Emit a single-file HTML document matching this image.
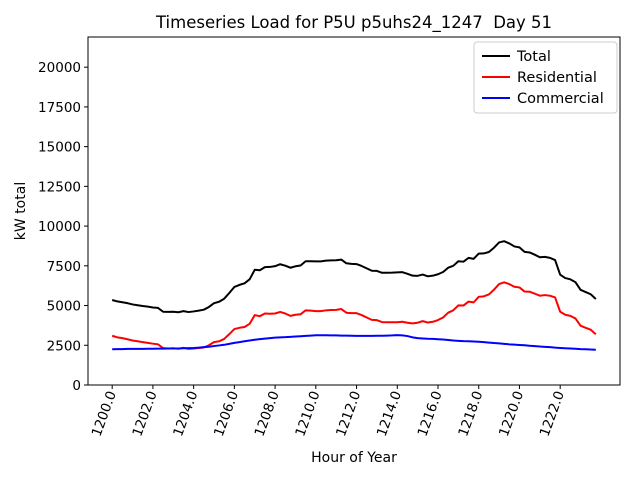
<!DOCTYPE html>
<html><head><meta charset="utf-8"><style>body{margin:0;background:#fff}svg{font-family:"DejaVu Sans","Liberation Sans",sans-serif}</style></head>
<body>
<svg id="c" width="640" height="480">
<rect width="640" height="480" fill="#fff"/>
<text x="354" y="28" font-size="16.5" text-anchor="middle" xml:space="preserve" style="white-space:pre">Timeseries Load for P5U p5uhs24_1247  Day 51</text>
<g id="grid"></g>
<g id="series"></g>
<rect x="88" y="37" width="532" height="348" fill="none" stroke="#000" stroke-width="1"/>
<text x="354" y="462" font-size="14" text-anchor="middle">Hour of Year</text>
<text transform="translate(25,211) rotate(-90)" font-size="14" text-anchor="middle">kW total</text>
<g>
<rect x="474" y="42" width="143" height="71" rx="3" fill="#fff" stroke="#ccc"/>
<g><line x1="482" y1="56" x2="510" y2="56" stroke="#000" stroke-width="2"/><text x="517" y="61" font-size="14.5">Total</text></g>
<g><line x1="482" y1="77" x2="510" y2="77" stroke="#f00" stroke-width="2"/><text x="517" y="82" font-size="14.5">Residential</text></g>
<g><line x1="482" y1="98" x2="510" y2="98" stroke="#00f" stroke-width="2"/><text x="517" y="103" font-size="14.5">Commercial</text></g>
</g>
</svg>
<script>
const startHour = 1200;
const stepHour = 0.25;
const xTicks = [1200,1202,1204,1206,1208,1210,1212,1214,1216,1218,1220,1222];
const yTicks = [0,2500,5000,7500,10000,12500,15000,17500,20000];
const total = [5350,5260,5210,5150,5070,5020,4970,4930,4880,4850,4610,4600,4610,4580,4650,4590,4630,4680,4740,4910,5150,5240,5430,5790,6170,6300,6400,6650,7250,7220,7420,7430,7480,7600,7510,7380,7470,7520,7790,7790,7780,7780,7830,7840,7850,7890,7660,7620,7610,7490,7340,7190,7180,7060,7060,7070,7090,7100,7000,6880,6870,6950,6840,6880,6970,7110,7380,7500,7790,7760,8000,7940,8270,8280,8370,8640,8970,9050,8910,8720,8660,8380,8340,8200,8040,8060,8000,7860,6940,6730,6650,6470,5990,5850,5710,5410];
const residential = [3100,3000,2950,2880,2800,2750,2700,2650,2600,2560,2320,2300,2310,2280,2340,2270,2300,2330,2360,2500,2700,2750,2900,3200,3520,3600,3650,3850,4400,4330,4500,4480,4500,4600,4500,4350,4420,4450,4700,4680,4650,4650,4700,4720,4730,4780,4550,4520,4520,4400,4250,4100,4080,3960,3950,3950,3950,3980,3920,3880,3920,4020,3930,3980,4090,4250,4550,4700,5010,5000,5250,5200,5550,5580,5700,6000,6350,6460,6350,6180,6140,5880,5870,5750,5620,5660,5620,5510,4610,4420,4350,4190,3730,3600,3480,3190];
const commercial = [2250,2260,2260,2270,2270,2270,2270,2280,2280,2290,2290,2300,2300,2300,2310,2320,2330,2350,2380,2410,2450,2490,2530,2590,2650,2700,2750,2800,2850,2890,2920,2950,2980,3000,3010,3030,3050,3070,3090,3110,3130,3130,3130,3120,3120,3110,3110,3100,3090,3090,3090,3090,3100,3100,3110,3120,3140,3120,3080,3000,2950,2930,2910,2900,2880,2860,2830,2800,2780,2760,2750,2740,2720,2700,2670,2640,2620,2590,2560,2540,2520,2500,2470,2450,2420,2400,2380,2350,2330,2310,2300,2280,2260,2250,2230,2220];

const NS = "http://www.w3.org/2000/svg";
const x0 = 88, x1 = 620, yTop = 37, yBot = 385;
const n = total.length;
const xMin = startHour, xMax = startHour + (n-1)*stepHour;
const xm = (xMax - xMin)*0.05;
const sx = h => x0 + (h - (xMin - xm)) / ((xMax + xm) - (xMin - xm)) * (x1 - x0);
const yMax = 21900;
const sy = v => yBot - v / yMax * (yBot - yTop);
const g = document.getElementById('grid');
function mk(tag, attrs, parent){const e=document.createElementNS(NS,tag);for(const k in attrs)e.setAttribute(k,attrs[k]);parent.appendChild(e);return e;}
xTicks.forEach(t=>{
  const x = sx(t);
  const tk = mk('line',{x1:x,y1:yBot,x2:x,y2:yBot+4,stroke:'#000'},g);
  
  
  const tx = mk('text',{transform:`translate(${x+4},${yBot+8}) rotate(-70)`,'font-size':'13.5','text-anchor':'end'},g);
  tx.textContent = t.toFixed(1);
  
  
});
yTicks.forEach(t=>{
  const y = sy(t);
  const tk = mk('line',{x1:x0-4,y1:y,x2:x0,y2:y,stroke:'#000'},g);
  
  
  const tx = mk('text',{x:x0-7,y:y+5,'font-size':'13.5','text-anchor':'end'},g);
  tx.textContent = t;
  
  
});
const s = document.getElementById('series');
function line(vals, color, name){
  const pts = vals.map((v,i)=>sx(startHour+i*stepHour).toFixed(2)+','+sy(v).toFixed(2)).join(' ');
  const p = mk('polyline',{points:pts,fill:'none',stroke:color,'stroke-width':'2','stroke-linejoin':'round'},s);
  
  
}
line(total,'#000','total-line');
line(residential,'#f00','residential-line');
line(commercial,'#00f','commercial-line');
</script>
</body></html>
